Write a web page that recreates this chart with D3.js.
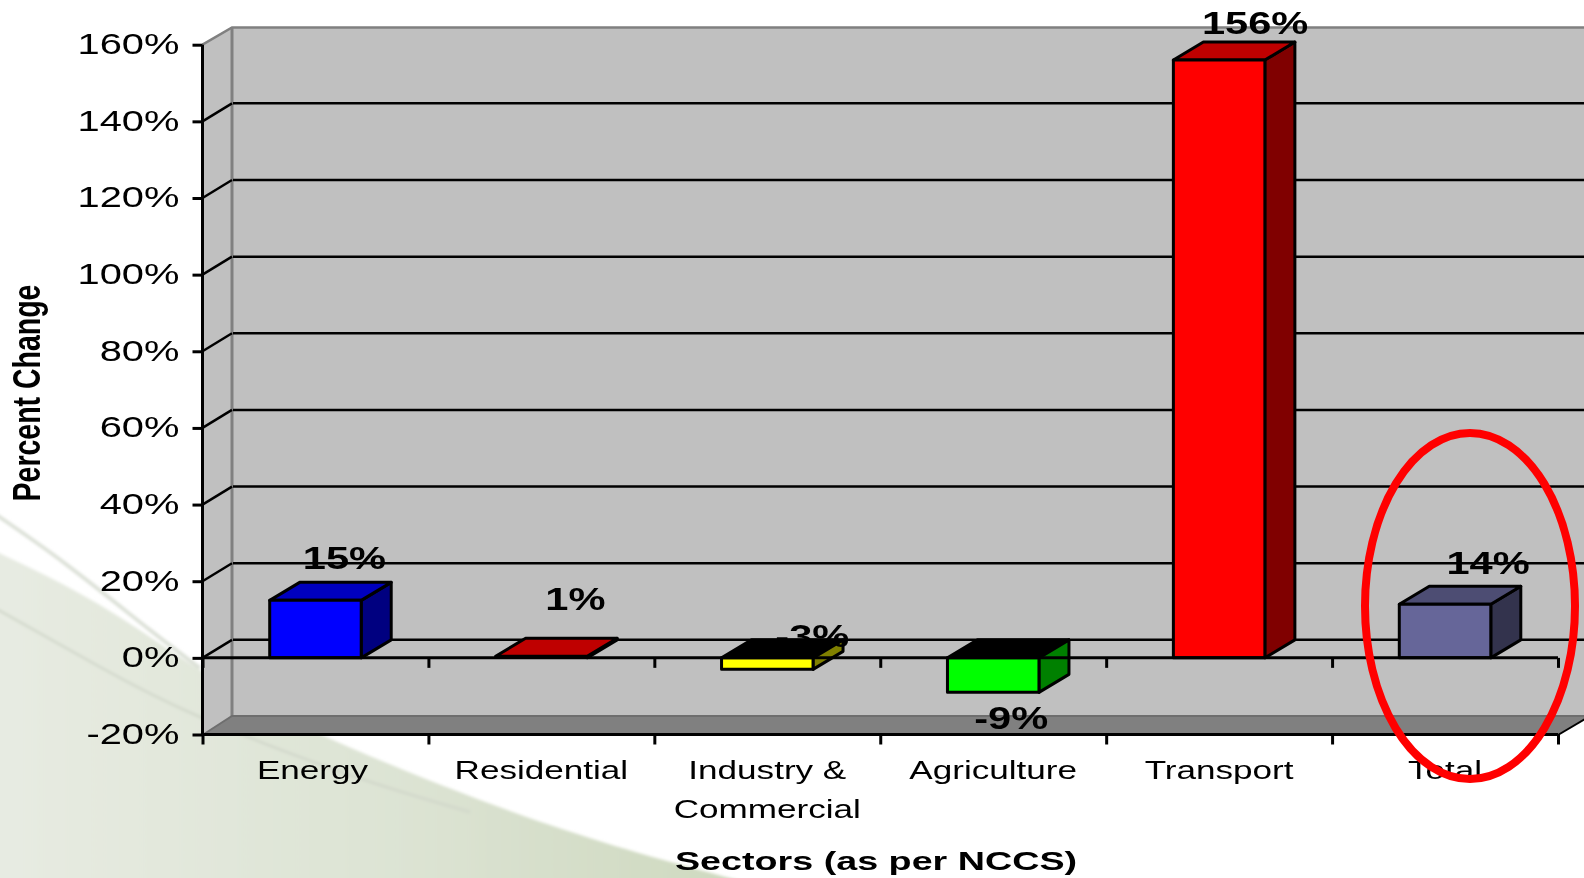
<!DOCTYPE html>
<html><head><meta charset="utf-8">
<script src="https://cdn.jsdelivr.net/npm/d3@7"></script>
<style>html,body{margin:0;padding:0;background:#fff;overflow:hidden}svg{display:block;filter:blur(0.45px)}text{font-family:"Liberation Sans",Arial,sans-serif;fill:#000}</style>
</head><body><svg id="c" width="1584" height="878"></svg>
<script>
const categories=[["Energy"],["Residential"],["Industry &","Commercial"],["Agriculture"],["Transport"],["Total"]];
const values=[15,0.4,-3,-9,156,14];
const valueLabels=["15%","1%","-3%","-9%","156%","14%"];
const frontColors=["#0000ff","#ff0000","#ffff00","#00ff00","#ff0000","#666699"];
const topColors=["#0000bf","#bf0000","#000000","#000000","#bf0000","#4d4d73"];
const sideColors=["#000080","#800000","#808000","#008000","#800000","#33334d"];
const yTicks=[-20,0,20,40,60,80,100,120,140,160];
const yTitle="Percent Change", xTitle="Sectors (as per NCCS)";

// layout
const L=202.5,R=1558,DX=30,DY=18,WALLR=1590;
const labelNudge=[[29,569],[34,610],[45,647],[18,729],[36,34],[43,574]];
const svg=d3.select("#c");
const y=d3.scaleLinear().domain([-20,160]).range([734.5,44.7]);
const xb=d3.scaleBand().domain(d3.range(6)).range([L,R]).paddingInner(0.595).paddingOuter(0.2975);
const xt=d3.scaleLinear().domain([0,6]).range([L,R]);
const line=d3.line();
const poly=(pts,fill,stroke,sw)=>svg.append("path").attr("d",line(pts)+"Z").attr("fill",fill).attr("stroke",stroke||"none").attr("stroke-width",sw||0).attr("stroke-linejoin","round");
const seg=(pts,stroke,sw)=>svg.append("path").attr("d",line(pts)).attr("fill","none").attr("stroke",stroke).attr("stroke-width",sw);
function txt(x,yy,s,size,sx,anchor,weight){
  return svg.append("text").attr("transform",`translate(${x},${yy}) scale(${sx},1)`).attr("text-anchor",anchor||"middle")
   .attr("font-size",size).attr("font-weight",weight||"normal").text(s);
}

// background swoosh
const defs=svg.append("defs");
const g=defs.append("linearGradient").attr("id","sw").attr("gradientUnits","userSpaceOnUse").attr("x1",0).attr("x2",740).attr("y1",0).attr("y2",0);
g.append("stop").attr("offset","0").attr("stop-color","#e7ebe2");
g.append("stop").attr("offset","0.55").attr("stop-color","#dce3d3");
g.append("stop").attr("offset","1").attr("stop-color","#ced9bf");
defs.append("filter").attr("id","soft").attr("x","-5%").attr("y","-5%").attr("width","110%").attr("height","110%").append("feGaussianBlur").attr("stdDeviation",1.6);
const curve=d3.line().curve(d3.curveNatural);
const swoosh=svg.append("g").attr("filter","url(#soft)");
swoosh.append("path").attr("fill","url(#sw)").attr("d",curve([[-5,551],[100,605],[200,670],[333,740],[550,825],[745,882]])+"L745,890L-5,890Z");
swoosh.append("path").attr("fill","none").attr("stroke","#dadfd5").attr("stroke-width",3.5).attr("d",curve([[-5,514],[67,565],[150,630],[200,668]]));
swoosh.append("path").attr("fill","none").attr("stroke","#d2d8cb").attr("stroke-width",2.5).attr("d",curve([[-5,608],[100,667],[200,717],[350,775],[470,812]]));

// walls
poly([[L,44.7],[232,27.5],[232,716],[L,735]],"#c0c0c0");
poly([[232,27.5],[WALLR,27.5],[WALLR,716],[232,716]],"#c0c0c0");
poly([[L,y(0)],[R,y(0)],[R,735],[L,735]],"#c0c0c0");
poly([[L,735],[232,716],[WALLR,716],[R,735]],"#808080");
seg([[L,44.7],[232,27.5],[WALLR,27.5]],"#808080",2.5);
seg([[232,27.5],[232,716]],"#808080",3);
seg([[L,735],[232,716],[WALLR,716]],"#6e6e6e",2);
seg([[R,735],[1590,716]],"#000",2);

// gridlines
yTicks.filter(d=>d>-20&&d<160).forEach(d=>{
  seg([[L,y(d)],[232,y(d)-DY]],"#000",2.5);
  seg([[233,y(d)-DY],[WALLR,y(d)-DY]],"#000",2.5);
});

// bars
values.forEach((v,i)=>{
  const x0=xb(i),x1=x0+xb.bandwidth(),yv=y(v),y0=y(0),s=3;
  if(v>=0){
    poly([[x1,y0],[x1+DX,y0-DY],[x1+DX,yv-DY],[x1,yv]],sideColors[i],"#000",s);
    poly([[x0,yv],[x1,yv],[x1+DX,yv-DY],[x0+DX,yv-DY]],topColors[i],"#000",s);
    if(v>1) poly([[x0,y0],[x1,y0],[x1,yv],[x0,yv]],frontColors[i],"#000",s);
  }else{
    poly([[x0,y0],[x1,y0],[x1+DX,y0-DY],[x0+DX,y0-DY]],topColors[i],"#000",s);
    poly([[x1,y0],[x1+DX,y0-DY],[x1+DX,yv-DY],[x1,yv]],sideColors[i],"#000",s);
    poly([[x0,y0],[x1,y0],[x1,yv],[x0,yv]],frontColors[i],"#000",s);
  }
});

// axes
const yAxis=svg.append("g").attr("transform",`translate(${L},0)`).call(d3.axisLeft(y).tickValues(yTicks).tickSize(10).tickPadding(0).tickFormat(d=>d+"%"));
yAxis.selectAll("path.domain").attr("stroke","#000").attr("stroke-width",3).attr("d",`M0,${y(160)}V${y(-20)}`);
yAxis.selectAll("line").attr("stroke","#000").attr("stroke-width",3);
yAxis.selectAll("text").attr("dy",null).attr("x",null).attr("text-anchor","end").attr("font-size",30).attr("font-family",null)
  .attr("transform","translate(-23,9) scale(1.33,1)").style("fill","#000");
[0,-20].forEach(d=>{
  const a=svg.append("g").attr("transform",`translate(0,${y(d)})`).call(d3.axisBottom(xt).tickValues(d3.range(7)).tickSize(10).tickFormat(""));
  a.selectAll("path.domain").attr("stroke","#000").attr("stroke-width",3).attr("d",`M${L},0H${R}`);
  a.selectAll("line").attr("stroke","#000").attr("stroke-width",3);
});

// value labels
valueLabels.forEach((s,i)=>txt(xb(i)+xb.bandwidth()/2+labelNudge[i][0],labelNudge[i][1],s,32,1.3,"middle","bold"));

// category labels
categories.forEach((c,i)=>c.forEach((s,j)=>txt(xb(i)+xb.bandwidth()/2-(i==0?3:0),779+j*39,s,26,1.35)));

// titles
txt(876,870,xTitle,26,1.45,"middle","bold");
svg.append("text").attr("transform","translate(40,393) rotate(-90) scale(1,1.35)").attr("text-anchor","middle").attr("font-size",28.5).attr("font-weight","bold").text(yTitle);

// highlight
svg.append("ellipse").attr("cx",1470).attr("cy",606).attr("rx",105).attr("ry",173).attr("fill","none").attr("stroke","#ff0000").attr("stroke-width",8);
</script></body></html>
